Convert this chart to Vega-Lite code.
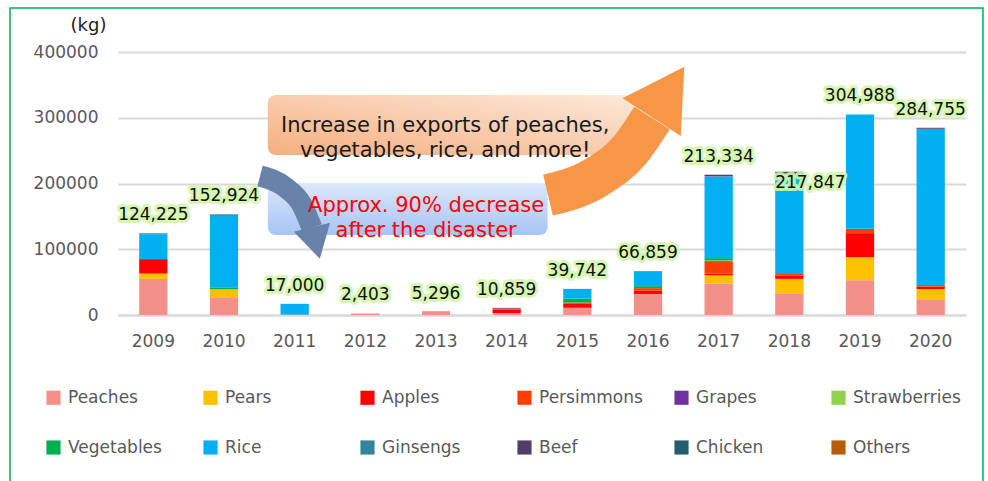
{
  "$schema": "https://vega.github.io/schema/vega-lite/v6.json",
  "width": 848,
  "height": 263,
  "autosize": {"type": "none"},
  "padding": {"left": 118, "top": 52, "right": 22, "bottom": 166},
  "background": "white",
  "config": {"font": "DejaVu Sans", "view": {"stroke": null}},
  "datasets": {
    "exports": [
      {"year": "2009", "item": "Peaches", "kg": 55000},
      {"year": "2009", "item": "Pears", "kg": 8000},
      {"year": "2009", "item": "Apples", "kg": 22000},
      {"year": "2009", "item": "Rice", "kg": 38000},
      {"year": "2009", "item": "Ginsengs", "kg": 1225},
      {"year": "2010", "item": "Peaches", "kg": 27000},
      {"year": "2010", "item": "Pears", "kg": 12000},
      {"year": "2010", "item": "Vegetables", "kg": 3000},
      {"year": "2010", "item": "Rice", "kg": 109924},
      {"year": "2010", "item": "Chicken", "kg": 1000},
      {"year": "2011", "item": "Peaches", "kg": 500},
      {"year": "2011", "item": "Rice", "kg": 16500},
      {"year": "2012", "item": "Peaches", "kg": 2403},
      {"year": "2013", "item": "Peaches", "kg": 4800},
      {"year": "2013", "item": "Beef", "kg": 496},
      {"year": "2014", "item": "Peaches", "kg": 3000},
      {"year": "2014", "item": "Apples", "kg": 4859},
      {"year": "2014", "item": "Persimmons", "kg": 2000},
      {"year": "2014", "item": "Beef", "kg": 1000},
      {"year": "2015", "item": "Peaches", "kg": 11000},
      {"year": "2015", "item": "Apples", "kg": 6000},
      {"year": "2015", "item": "Persimmons", "kg": 2000},
      {"year": "2015", "item": "Vegetables", "kg": 6000},
      {"year": "2015", "item": "Rice", "kg": 14742},
      {"year": "2016", "item": "Peaches", "kg": 32000},
      {"year": "2016", "item": "Apples", "kg": 5000},
      {"year": "2016", "item": "Persimmons", "kg": 3859},
      {"year": "2016", "item": "Vegetables", "kg": 3000},
      {"year": "2016", "item": "Rice", "kg": 22000},
      {"year": "2016", "item": "Others", "kg": 1000},
      {"year": "2017", "item": "Peaches", "kg": 48000},
      {"year": "2017", "item": "Pears", "kg": 12500},
      {"year": "2017", "item": "Apples", "kg": 2500},
      {"year": "2017", "item": "Persimmons", "kg": 19000},
      {"year": "2017", "item": "Strawberries", "kg": 1000},
      {"year": "2017", "item": "Vegetables", "kg": 3500},
      {"year": "2017", "item": "Rice", "kg": 124334},
      {"year": "2017", "item": "Beef", "kg": 2500},
      {"year": "2018", "item": "Peaches", "kg": 32000},
      {"year": "2018", "item": "Pears", "kg": 23000},
      {"year": "2018", "item": "Apples", "kg": 5000},
      {"year": "2018", "item": "Persimmons", "kg": 2500},
      {"year": "2018", "item": "Rice", "kg": 150847},
      {"year": "2018", "item": "Beef", "kg": 4500},
      {"year": "2019", "item": "Peaches", "kg": 53000},
      {"year": "2019", "item": "Pears", "kg": 35000},
      {"year": "2019", "item": "Apples", "kg": 36500},
      {"year": "2019", "item": "Persimmons", "kg": 6500},
      {"year": "2019", "item": "Rice", "kg": 173988},
      {"year": "2020", "item": "Peaches", "kg": 24000},
      {"year": "2020", "item": "Pears", "kg": 15500},
      {"year": "2020", "item": "Apples", "kg": 3500},
      {"year": "2020", "item": "Persimmons", "kg": 2500},
      {"year": "2020", "item": "Rice", "kg": 237755},
      {"year": "2020", "item": "Beef", "kg": 1500}
    ],
    "totals": [
      {"year": "2009", "total": 124225},
      {"year": "2010", "total": 152924},
      {"year": "2011", "total": 17000},
      {"year": "2012", "total": 2403},
      {"year": "2013", "total": 5296},
      {"year": "2014", "total": 10859},
      {"year": "2015", "total": 39742},
      {"year": "2016", "total": 66859},
      {"year": "2017", "total": 213334},
      {"year": "2018", "total": 217847},
      {"year": "2019", "total": 304988},
      {"year": "2020", "total": 284755}
    ],
    "arrows": [
      {"arrow": "up", "i": 0, "x": 6.085, "y": 182500},
      {"arrow": "up", "i": 1, "x": 6.75, "y": 208400},
      {"arrow": "up", "i": 2, "x": 7.245, "y": 251000},
      {"arrow": "up", "i": 3, "x": 7.557, "y": 299600},
      {"arrow": "down", "i": 0, "x": 2.01, "y": 211400},
      {"arrow": "down", "i": 1, "x": 2.363, "y": 194700},
      {"arrow": "down", "i": 2, "x": 2.604, "y": 167300},
      {"arrow": "down", "i": 3, "x": 2.745, "y": 132300}
    ]
  },
  "layer": [
    {
      "layer": [
        {
          "data": {"name": "exports"},
          "transform": [
            {"calculate": "indexof(['Peaches','Pears','Apples','Persimmons','Grapes','Strawberries','Vegetables','Rice','Ginsengs','Beef','Chicken','Others'], datum.item)", "as": "ord"}
          ],
          "mark": {"type": "bar"},
          "encoding": {
            "x": {
              "field": "year", "type": "nominal",
              "scale": {"paddingInner": 0.6, "paddingOuter": 0.3},
              "axis": {"title": null, "labelFontSize": 17, "labelColor": "#595959", "ticks": false, "domainColor": "#D9D9D9", "domainWidth": 2, "labelPadding": 18, "labelAngle": 0}
            },
            "y": {
              "field": "kg", "type": "quantitative", "stack": "zero",
              "scale": {"domain": [0, 400000], "nice": false},
              "axis": {"title": "(kg)", "titleAngle": 0, "titleX": -30, "titleY": -18, "titleAlign": "center", "titleBaseline": "bottom", "titleFontSize": 18, "titleFontWeight": "normal", "titleColor": "#222222", "values": [0, 100000, 200000, 300000, 400000], "format": "d", "labelFontSize": 17, "labelColor": "#595959", "labelPadding": 20, "ticks": false, "domain": false, "gridColor": "#D9D9D9", "gridWidth": 2}
            },
            "color": {
              "field": "item", "type": "nominal",
              "scale": {
                "domain": ["Peaches", "Pears", "Apples", "Persimmons", "Grapes", "Strawberries", "Vegetables", "Rice", "Ginsengs", "Beef", "Chicken", "Others"],
                "range": ["#F4908A", "#FFC000", "#FF0000", "#FF3D00", "#7030A0", "#92D050", "#00B050", "#00B0F0", "#31859C", "#4F3F66", "#215F6E", "#B85C0A"]
              },
              "legend": {"title": null, "orient": "none", "legendX": -73, "legendY": 337, "columns": 6, "direction": "horizontal", "symbolType": "square", "symbolSize": 200, "symbolStrokeWidth": 0, "labelFontSize": 17, "labelColor": "#595959", "labelOffset": 6, "columnPadding": 26, "rowPadding": 32, "gridAlign": "all", "labelLimit": 200}
            },
            "order": {"field": "ord", "type": "quantitative", "sort": "ascending"}
          }
        },
        {
          "data": {"name": "totals"},
          "transform": [{"filter": "datum.year !== '2018'"}],
          "mark": {"type": "text", "baseline": "bottom", "dy": -9, "fontSize": 17, "stroke": "#D2F7AA", "strokeWidth": 6, "strokeJoin": "round", "strokeOpacity": 0.9, "fill": "#D2F7AA"},
          "encoding": {
            "x": {"field": "year", "type": "nominal"},
            "y": {"field": "total", "type": "quantitative"},
            "text": {"field": "total", "type": "quantitative", "format": ","}
          }
        },
        {
          "data": {"name": "totals"},
          "transform": [{"filter": "datum.year !== '2018'"}],
          "mark": {"type": "text", "baseline": "bottom", "dy": -9, "fontSize": 17, "fill": "#111111"},
          "encoding": {
            "x": {"field": "year", "type": "nominal"},
            "y": {"field": "total", "type": "quantitative"},
            "text": {"field": "total", "type": "quantitative", "format": ","}
          }
        },
        {
          "data": {"name": "totals"},
          "transform": [{"filter": "datum.year === '2018'"}],
          "mark": {"type": "text", "baseline": "bottom", "dy": 20, "dx": 21, "fontSize": 17, "stroke": "#D2F7AA", "strokeWidth": 6, "strokeJoin": "round", "strokeOpacity": 0.9, "fill": "#D2F7AA"},
          "encoding": {
            "x": {"field": "year", "type": "nominal"},
            "y": {"field": "total", "type": "quantitative"},
            "text": {"field": "total", "type": "quantitative", "format": ","}
          }
        },
        {
          "data": {"name": "totals"},
          "transform": [{"filter": "datum.year === '2018'"}],
          "mark": {"type": "text", "baseline": "bottom", "dy": 20, "dx": 21, "fontSize": 17, "fill": "#111111"},
          "encoding": {
            "x": {"field": "year", "type": "nominal"},
            "y": {"field": "total", "type": "quantitative"},
            "text": {"field": "total", "type": "quantitative", "format": ","}
          }
        }
      ]
    },
    {
      "layer": [
        {
          "data": {"values": [{}]},
          "mark": {"type": "rect", "fill": null, "stroke": "#00B050", "strokeWidth": 1.5},
          "encoding": {
            "x": {"datum": -1.528, "type": "quantitative", "scale": {"domain": [0, 12], "nice": false, "zero": false}, "axis": null},
            "x2": {"datum": 12.24},
            "y": {"datum": 466900, "type": "quantitative", "scale": {"domain": [0, 400000], "nice": false}, "axis": null},
            "y2": {"datum": -270000}
          }
        },
        {
          "data": {"values": [{}]},
          "mark": {"type": "rect", "cornerRadius": 8, "fill": {"gradient": "linear", "x1": 0, "y1": 1, "x2": 1, "y2": 0, "stops": [{"offset": 0, "color": "#F5AF80"}, {"offset": 1, "color": "#FDE9DB"}]}},
          "encoding": {
            "x": {"datum": 2.12, "type": "quantitative"},
            "x2": {"datum": 7.39},
            "y": {"datum": 334600, "type": "quantitative"},
            "y2": {"datum": 243300}
          }
        },
        {
          "data": {"values": [{}]},
          "mark": {"type": "rect", "cornerRadius": 8, "fill": {"gradient": "linear", "x1": 0, "y1": 0, "x2": 0, "y2": 1, "stops": [{"offset": 0, "color": "#DCE7FB"}, {"offset": 1, "color": "#A6C4F5"}]}},
          "encoding": {
            "x": {"datum": 2.12, "type": "quantitative"},
            "x2": {"datum": 6.08},
            "y": {"datum": 200800, "type": "quantitative"},
            "y2": {"datum": 121700}
          }
        },
        {
          "data": {"name": "arrows"},
          "transform": [{"filter": "datum.arrow === 'down'"}],
          "mark": {"type": "line", "color": "#6882AA", "strokeWidth": 21, "strokeCap": "butt", "interpolate": "monotone"},
          "encoding": {
            "x": {"field": "x", "type": "quantitative"},
            "y": {"field": "y", "type": "quantitative"},
            "order": {"field": "i", "type": "quantitative"}
          }
        },
        {
          "data": {"values": [{}]},
          "mark": {"type": "point", "shape": "triangle-down", "filled": true, "color": "#6882AA", "size": 1400, "angle": -14, "opacity": 1},
          "encoding": {
            "x": {"datum": 2.8, "type": "quantitative"},
            "y": {"datum": 109500, "type": "quantitative"}
          }
        },
        {
          "data": {"name": "arrows"},
          "transform": [{"filter": "datum.arrow === 'up'"}],
          "mark": {"type": "line", "color": "#F79646", "strokeWidth": 42, "strokeCap": "butt", "interpolate": "monotone"},
          "encoding": {
            "x": {"field": "x", "type": "quantitative"},
            "y": {"field": "y", "type": "quantitative"},
            "order": {"field": "i", "type": "quantitative"}
          }
        },
        {
          "data": {"values": [{}]},
          "mark": {"type": "point", "shape": "triangle-up", "filled": true, "color": "#F79646", "size": 4800, "angle": 33, "opacity": 1},
          "encoding": {
            "x": {"datum": 7.783, "type": "quantitative"},
            "y": {"datum": 339200, "type": "quantitative"}
          }
        },
        {
          "data": {"values": [{}]},
          "mark": {"type": "text", "fontSize": 21, "fill": "#1A1A1A", "align": "center", "baseline": "middle", "lineHeight": 25},
          "encoding": {
            "x": {"datum": 4.63, "type": "quantitative"},
            "y": {"datum": 288200, "type": "quantitative"},
            "text": {"value": ["Increase in exports of peaches,", "vegetables, rice, and more!"]}
          }
        },
        {
          "data": {"values": [{}]},
          "mark": {"type": "text", "fontSize": 21, "fill": "#FF0000", "align": "center", "baseline": "middle", "lineHeight": 25},
          "encoding": {
            "x": {"datum": 4.36, "type": "quantitative"},
            "y": {"datum": 166500, "type": "quantitative"},
            "text": {"value": ["Approx. 90% decrease", "after the disaster"]}
          }
        }
      ]
    }
  ],
  "resolve": {"scale": {"x": "independent", "y": "independent"}}
}
